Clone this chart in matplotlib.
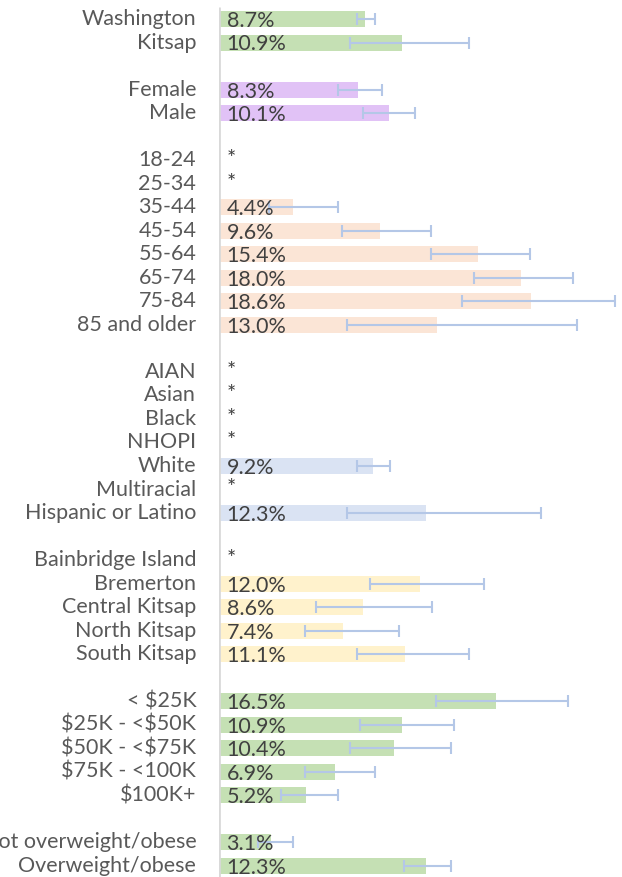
import numpy as np
import matplotlib
matplotlib.use("Agg")
import matplotlib.pyplot as plt

plt.rcParams['font.family'] = ['Lato', 'DejaVu Sans']
plt.rcParams['text.parse_math'] = False

# ---- data (percent, None = suppressed, shown as "*") ----
labels = ["Washington", "Kitsap", "",
          "Female", "Male", "",
          "18-24", "25-34", "35-44", "45-54", "55-64", "65-74", "75-84", "85 and older", "",
          "AIAN", "Asian", "Black", "NHOPI", "White", "Multiracial", "Hispanic or Latino", "",
          "Bainbridge Island", "Bremerton", "Central Kitsap", "North Kitsap", "South Kitsap", "",
          "< $25K", "$25K - <$50K", "$50K - <$75K", "$75K - <100K", "$100K+", "",
          "Not overweight/obese", "Overweight/obese"]
values = [8.7, 10.9, None,
          8.3, 10.1, None,
          None, None, 4.4, 9.6, 15.4, 18.0, 18.6, 13.0, None,
          None, None, None, None, 9.2, None, 12.3, None,
          None, 12.0, 8.6, 7.4, 11.1, None,
          16.5, 10.9, 10.4, 6.9, 5.2, None,
          3.1, 12.3]
lower = [8.2, 7.8, None,
         7.1, 8.6, None,
         None, None, 3.0, 7.3, 12.6, 15.2, 14.5, 7.6, None,
         None, None, None, None, 8.2, None, 7.6, None,
         None, 9.0, 5.8, 5.1, 8.2, None,
         12.9, 8.4, 7.8, 5.1, 3.7, None,
         2.3, 11.0]
upper = [9.3, 14.9, None,
         9.7, 11.7, None,
         None, None, 7.1, 12.6, 18.5, 21.1, 23.6, 21.3, None,
         None, None, None, None, 10.2, None, 19.2, None,
         None, 15.8, 12.7, 10.7, 14.9, None,
         20.8, 14.0, 13.8, 9.3, 7.1, None,
         4.4, 13.8]
groups = ["geo", "geo", "",
          "sex", "sex", "",
          "age", "age", "age", "age", "age", "age", "age", "age", "",
          "race", "race", "race", "race", "race", "race", "race", "",
          "region", "region", "region", "region", "region", "",
          "income", "income", "income", "income", "income", "",
          "bmi", "bmi"]
# starred rows (suppressed estimates)
starred = ["18-24", "25-34", "AIAN", "Asian", "Black", "NHOPI", "Multiracial", "Bainbridge Island"]

colors = {"geo": "#C5E0B4", "sex": "#E1C2F6", "age": "#FBE5D6", "race": "#DAE3F3",
          "region": "#FFF2CC", "income": "#C5E0B4", "bmi": "#C5E0B4"}
ERR = "#B4C7E7"
LABEL_C = "#595959"
VALUE_C = "#404040"

fig = plt.figure(figsize=(6.22, 8.77), dpi=100)
ax = fig.add_axes([0.352, 0.0, 0.648, 1.0])

n = len(labels)
y = np.arange(n)
for i in range(n):
    v = values[i]
    if v is not None:
        ax.barh(y[i], v, height=0.68, color=colors[groups[i]], zorder=1)
        ax.text(0.45, y[i] + 0.08, f"{v:.1f}%", va="center", ha="left",
                fontsize=15.5, color=VALUE_C, zorder=3)
        lo, hi = lower[i], upper[i]
        ax.errorbar(v, y[i], xerr=[[v - lo], [hi - v]], fmt="none",
                    ecolor=ERR, elinewidth=1.5, capsize=4.5, capthick=1.5, zorder=2)
    elif labels[i] in starred:
        ax.text(0.45, y[i] - 0.05, "*", va="center", ha="left",
                fontsize=15.5, color=VALUE_C)
    if labels[i]:
        ax.text(-1.35, y[i], labels[i], va="center", ha="right",
                fontsize=15.5, color=LABEL_C, clip_on=False)

ax.vlines(0, -0.5, n + 0.5, color="#D9D9D9", linewidth=2, zorder=4)
ax.set_xlim(0, 24)
ax.set_ylim(36.47, -0.81)
ax.axis("off")

fig.savefig("out.png", dpi=100)
